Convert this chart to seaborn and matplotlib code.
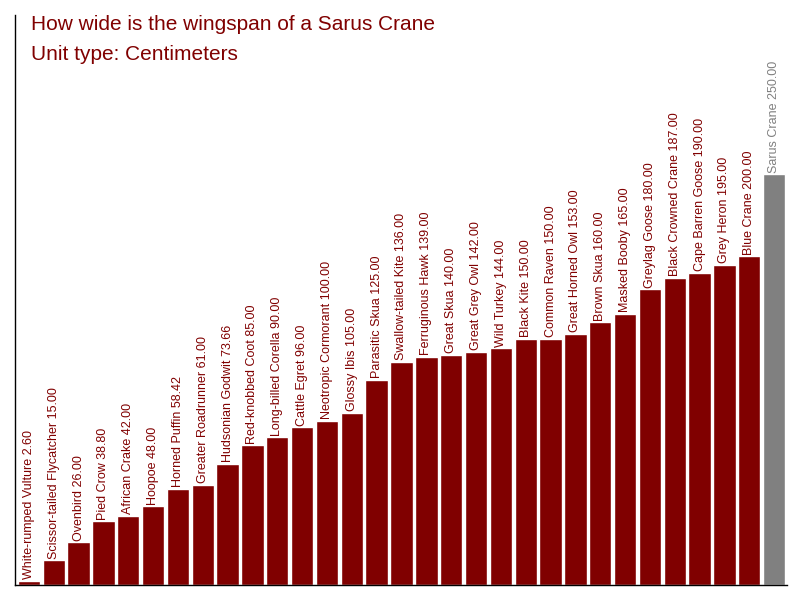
import pandas as pd
import matplotlib
matplotlib.use("Agg")
import matplotlib.pyplot as plt
import seaborn as sns

birds = ["White-rumped Vulture", "Scissor-tailed Flycatcher", "Ovenbird", "Pied Crow",
         "African Crake", "Hoopoe", "Horned Puffin", "Greater Roadrunner",
         "Hudsonian Godwit", "Red-knobbed Coot", "Long-billed Corella", "Cattle Egret",
         "Neotropic Cormorant", "Glossy Ibis", "Parasitic Skua", "Swallow-tailed Kite",
         "Ferruginous Hawk", "Great Skua", "Great Grey Owl", "Wild Turkey", "Black Kite",
         "Common Raven", "Great Horned Owl", "Brown Skua", "Masked Booby", "Greylag Goose",
         "Black Crowned Crane", "Cape Barren Goose", "Grey Heron", "Blue Crane", "Sarus Crane"]
wingspan = [2.60, 15.00, 26.00, 38.80, 42.00, 48.00, 58.42, 61.00, 73.66, 85.00, 90.00,
            96.00, 100.00, 105.00, 125.00, 136.00, 139.00, 140.00, 142.00, 144.00, 150.00,
            150.00, 153.00, 160.00, 165.00, 180.00, 187.00, 190.00, 195.00, 200.00, 250.00]
highlight = "Sarus Crane"

df = pd.DataFrame({"bird": birds, "wingspan": wingspan})
dark_red = "#800000"
grey = "#808080"
colors = {b: (grey if b == highlight else dark_red) for b in birds}

sns.set_style("white")
plt.rcParams["font.family"] = ["Liberation Sans", "DejaVu Sans"]

fig = plt.figure(figsize=(8, 6), dpi=100)
ax = fig.add_axes([15 / 800, 15 / 600, 772 / 800, 570 / 600])
sns.barplot(data=df, x="bird", y="wingspan", hue="bird", palette=colors,
            legend=False, width=0.9, saturation=1, ax=ax)

# value labels sit right on top of each bar
for i, row in df.iterrows():
    c = grey if row["bird"] == highlight else dark_red
    ax.text(i, row["wingspan"] + 1.0, f"{row['bird']} {row['wingspan']:.2f}",
            rotation=90, ha="center", va="bottom", fontsize=9, color=c)

ax.set_xlim(-0.56, 30.52)
ax.set_ylim(0, 347)
ax.set_xticks([])
ax.set_yticks([])
ax.set_xlabel("")
ax.set_ylabel("")
sns.despine(ax=ax)
for s in ["left", "bottom"]:
    ax.spines[s].set_color("black")
    ax.spines[s].set_linewidth(1)

fig.text(31 / 800, 1 - 29.5 / 600, "How wide is the wingspan of a Sarus Crane",
         fontsize=15, color=dark_red, va="baseline", ha="left")
fig.text(31 / 800, 1 - 59.5 / 600, "Unit type: Centimeters",
         fontsize=15, color=dark_red, va="baseline", ha="left")

fig.savefig("out.png", dpi=100)
